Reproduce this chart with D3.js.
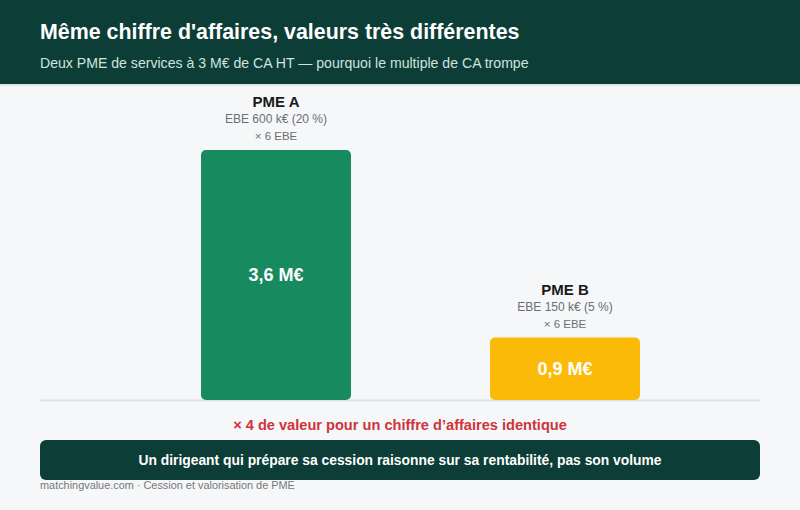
<!DOCTYPE html>
<html>
<head>
<meta charset="utf-8">
<style>
  body { margin:0; background:#f5f7f9; }
  text { font-family: "Liberation Sans", Arial, sans-serif; }
</style>
</head>
<body>
<div id="chart"></div>
<script src="https://cdn.jsdelivr.net/npm/d3@7"></script>
<script>
// data
var companies = ["PME A", "PME B"];
var valuesM = [3.6, 0.9];
var valueLabels = ["3,6 M€", "0,9 M€"];
var ebeLabels = ["EBE 600 k€ (20 %)", "EBE 150 k€ (5 %)"];
var multipleLabels = ["× 6 EBE", "× 6 EBE"];
var colors = ["#178a5f", "#fbba08"];

var width = 800, height = 510;

var svg = d3.select("#chart").append("svg")
    .attr("width", width)
    .attr("height", height);

svg.append("rect").attr("width", width).attr("height", height).attr("fill", "#f5f7f9");

// header
svg.append("rect").attr("width", width).attr("height", 85).attr("fill", "#0c3d36");
svg.append("rect").attr("y", 84).attr("width", width).attr("height", 2).attr("fill", "#dce6ea");
svg.append("text").attr("x", 40).attr("y", 39)
    .attr("fill", "#fff").attr("font-size", 21.4).attr("font-weight", "bold")
    .text("Même chiffre d'affaires, valeurs très différentes");
svg.append("text").attr("x", 40).attr("y", 68)
    .attr("fill", "#cfe3df").attr("font-size", 14.1)
    .text("Deux PME de services à 3 M€ de CA HT — pourquoi le multiple de CA trompe");

// scales
var x = d3.scaleBand().domain(companies).range([201, 640]).paddingInner(0.481).paddingOuter(0);
var y = d3.scaleLinear().domain([0, 3.6]).range([400, 150]);

var g = svg.append("g");

// baseline
g.append("line").attr("x1", 40).attr("x2", 760).attr("y1", y(0) + 0.5).attr("y2", y(0) + 0.5)
    .attr("stroke", "#dfe3e7").attr("stroke-width", 2);

var bars = g.selectAll("g.bar").data(companies).enter().append("g").attr("class", "bar");

bars.append("path")
    .attr("fill", (d, i) => colors[i])
    .attr("d", function(d, i) {
        var x0 = x(d), w = x.bandwidth(), y0 = y(valuesM[i]), h = y(0) - y0, r = 5;
        return "M" + x0 + "," + (y0 + r) + "a" + r + "," + r + " 0 0 1 " + r + "," + (-r)
            + "h" + (w - 2 * r) + "a" + r + "," + r + " 0 0 1 " + r + "," + r
            + "v" + (h - 2 * r) + "a" + r + "," + r + " 0 0 1 " + (-r) + "," + r
            + "h" + (-(w - 2 * r)) + "a" + r + "," + r + " 0 0 1 " + (-r) + "," + (-r) + "Z";
    });

bars.append("text")
    .attr("x", d => x(d) + x.bandwidth() / 2)
    .attr("y", (d, i) => (y(valuesM[i]) + y(0)) / 2 + 6)
    .attr("text-anchor", "middle").attr("fill", "#fff")
    .attr("font-size", 18).attr("font-weight", "bold")
    .text((d, i) => valueLabels[i]);

bars.append("text")
    .attr("x", d => x(d) + x.bandwidth() / 2)
    .attr("y", (d, i) => y(valuesM[i]) - 43)
    .attr("text-anchor", "middle").attr("fill", "#1a1a1a")
    .attr("font-size", 15).attr("font-weight", "bold")
    .text(d => d);

bars.append("text")
    .attr("x", d => x(d) + x.bandwidth() / 2)
    .attr("y", (d, i) => y(valuesM[i]) - 27)
    .attr("text-anchor", "middle").attr("fill", "#6b6f73")
    .attr("font-size", 12)
    .text((d, i) => ebeLabels[i]);

bars.append("text")
    .attr("x", d => x(d) + x.bandwidth() / 2)
    .attr("y", (d, i) => y(valuesM[i]) - 10)
    .attr("text-anchor", "middle").attr("fill", "#6b6f73")
    .attr("font-size", 11.5)
    .text((d, i) => multipleLabels[i]);

// ratio note
svg.append("text").attr("x", 400).attr("y", 430)
    .attr("text-anchor", "middle").attr("fill", "#d0333a")
    .attr("font-size", 14.6).attr("font-weight", "bold")
    .text("× 4 de valeur pour un chiffre d’affaires identique");

// conclusion box
svg.append("rect").attr("x", 40).attr("y", 440).attr("width", 720).attr("height", 40)
    .attr("rx", 6).attr("fill", "#0c3d36");
svg.append("text").attr("x", 400).attr("y", 465)
    .attr("text-anchor", "middle").attr("fill", "#fff")
    .attr("font-size", 13.85).attr("font-weight", "bold")
    .text("Un dirigeant qui prépare sa cession raisonne sur sa rentabilité, pas son volume");

// footer
svg.append("text").attr("x", 40).attr("y", 489)
    .attr("fill", "#777").attr("font-size", 10.9)
    .text("matchingvalue.com · Cession et valorisation de PME");
</script>
</body>
</html>
